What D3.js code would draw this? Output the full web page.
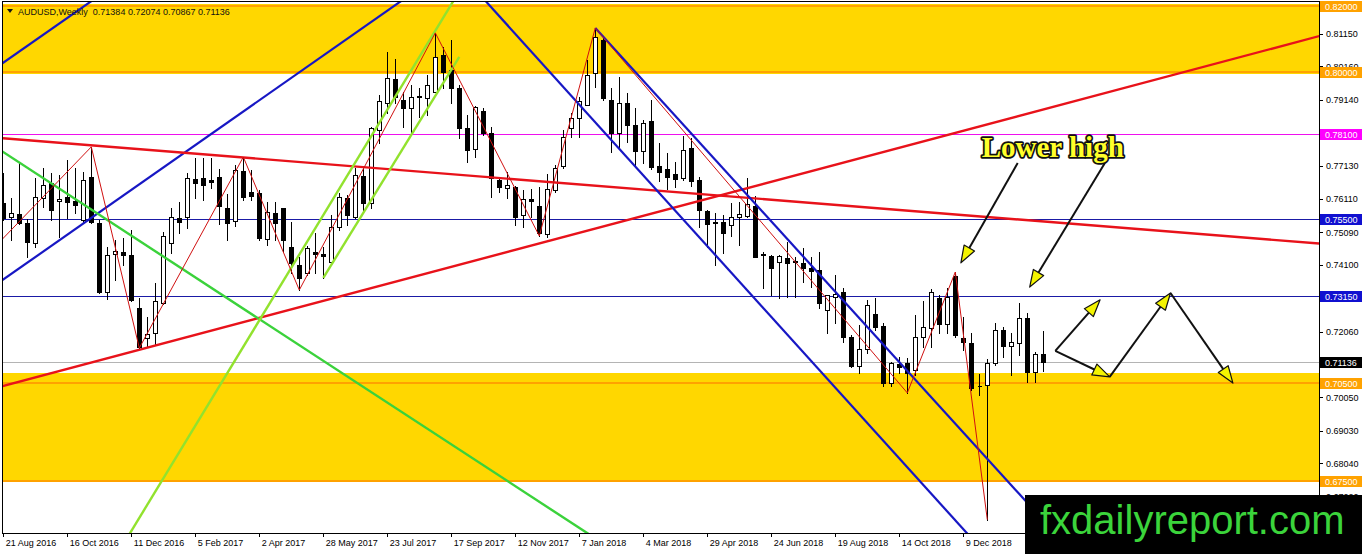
<!DOCTYPE html>
<html>
<head>
<meta charset="utf-8">
<script src="https://cdn.jsdelivr.net/npm/d3@7"></script>
<style>
    html, body { margin: 0; padding: 0; background: #fff; overflow: hidden; }
    svg { display: block; }
</style>
</head>
<body>
<svg id="mainsvg" width="1362" height="554"></svg>
<script>
// AUDUSD weekly, bar 0 = week of 21 Aug 2016
const open = [0.7599,0.7556,0.7565,0.7538,0.7477,0.7614,0.7660,0.7605,0.7617,0.7605,
    0.7547,0.7678,0.7538,0.7327,0.7443,0.7449,0.7440,0.7278,0.7187,0.7202,
    0.7294,0.7477,0.7553,0.7556,0.7672,0.7675,0.7669,0.7678,0.7584,0.7544,
    0.7697,0.7632,0.7629,0.7489,0.7568,0.7584,0.7465,0.7410,0.7385,0.7449,
    0.7443,0.7419,0.7526,0.7614,0.7556,0.7681,0.7599,0.7822,0.7904,0.7977,
    0.7913,0.7889,0.7925,0.7919,0.7938,0.8050,0.8005,0.7950,0.7828,0.7764,
    0.7880,0.7812,0.7669,0.7645,0.7648,0.7562,0.7611,0.7590,0.7504,0.7639,
    0.7712,0.7828,0.7858,0.7898,0.7995,0.8096,0.7913,0.7812,0.7904,0.7837,
    0.7758,0.7849,0.7712,0.7703,0.7687,0.7675,0.7767,0.7669,0.7574,0.7541,
    0.7541,0.7532,0.7556,0.7559,0.7590,0.7443,0.7437,0.7419,0.7431,0.7422,
    0.7416,0.7400,0.7394,0.7272,0.7312,0.7327,0.7190,0.7101,0.7153,0.7260,
    0.7223,0.7050,0.7108,0.7111,0.7089,0.7190,0.7217,0.7309,0.7229,0.7376,
    0.7187,0.7172,0.7040,0.7043,0.7111,0.7211,0.7162,0.7172,0.7248,0.7083,
    0.71384];
const high = [0.7690,0.7614,0.7724,0.7550,0.7675,0.7706,0.7690,0.7684,0.7730,0.7706,
    0.7693,0.7770,0.7547,0.7465,0.7486,0.7492,0.7516,0.7309,0.7251,0.7355,
    0.7510,0.7584,0.7602,0.7690,0.7736,0.7736,0.7736,0.7703,0.7626,0.7715,
    0.7739,0.7700,0.7638,0.7602,0.7602,0.7584,0.7541,0.7434,0.7468,0.7507,
    0.7465,0.7562,0.7629,0.7623,0.7706,0.7709,0.7831,0.7928,0.8060,0.8038,
    0.7938,0.7959,0.7950,0.7989,0.8118,0.8075,0.8096,0.7959,0.7867,0.7895,
    0.7889,0.7831,0.7678,0.7693,0.7650,0.7638,0.7641,0.7648,0.7687,0.7715,
    0.7822,0.7873,0.7922,0.8035,0.8133,0.8102,0.7950,0.7983,0.7935,0.7889,
    0.7852,0.7913,0.7782,0.7751,0.7724,0.7803,0.7797,0.7678,0.7577,0.7568,
    0.7562,0.7599,0.7602,0.7675,0.7620,0.7449,0.7440,0.7440,0.7480,0.7434,
    0.7462,0.7434,0.7449,0.7318,0.7379,0.7339,0.7196,0.7226,0.7303,0.7309,
    0.7233,0.7114,0.7129,0.7126,0.7257,0.7300,0.7336,0.7318,0.7339,0.7388,
    0.7251,0.7202,0.7077,0.7123,0.7233,0.7220,0.7202,0.7294,0.7263,0.7144,
    0.72074];
const low = [0.7547,0.7486,0.7535,0.7434,0.7465,0.7587,0.7547,0.7495,0.7553,0.7568,
    0.7538,0.7538,0.7324,0.7306,0.7364,0.7410,0.7300,0.7156,0.7159,0.7165,
    0.7291,0.7446,0.7507,0.7522,0.7614,0.7608,0.7645,0.7535,0.7486,0.7529,
    0.7608,0.7608,0.7486,0.7471,0.7486,0.7449,0.7385,0.7333,0.7378,0.7385,
    0.7370,0.7416,0.7516,0.7532,0.7553,0.7571,0.7584,0.7782,0.7873,0.7904,
    0.7831,0.7806,0.7861,0.7867,0.7938,0.7950,0.7904,0.7797,0.7724,0.7739,
    0.7806,0.7617,0.7632,0.7614,0.7532,0.7526,0.7556,0.7498,0.7495,0.7632,
    0.7706,0.7800,0.7800,0.7898,0.7953,0.7913,0.7755,0.7767,0.7785,0.7715,
    0.7721,0.7703,0.7666,0.7642,0.7648,0.7669,0.7651,0.7526,0.7465,0.7410,
    0.7446,0.7498,0.7471,0.7556,0.7434,0.7339,0.7318,0.7309,0.7312,0.7312,
    0.7358,0.7342,0.7278,0.7202,0.7233,0.7175,0.7098,0.7080,0.7141,0.7211,
    0.7041,0.7041,0.7080,0.7019,0.7074,0.7159,0.7159,0.7202,0.7202,0.7190,
    0.7150,0.7028,0.7013,0.6632,0.7104,0.7129,0.7074,0.7135,0.7053,0.7053,
    0.70867];
const close = [0.7553,0.7568,0.7538,0.7480,0.7617,0.7654,0.7577,0.7611,0.7602,0.7593,
    0.7669,0.7541,0.7327,0.7440,0.7452,0.7440,0.7303,0.7159,0.7199,0.7300,
    0.7498,0.7556,0.7541,0.7675,0.7660,0.7654,0.7663,0.7590,0.7538,0.7700,
    0.7617,0.7620,0.7492,0.7571,0.7538,0.7486,0.7416,0.7370,0.7462,0.7443,
    0.7437,0.7526,0.7617,0.7562,0.7684,0.7599,0.7828,0.7910,0.7980,0.7922,
    0.7889,0.7922,0.7922,0.7959,0.8044,0.7999,0.7950,0.7828,0.7761,0.7892,
    0.7812,0.7675,0.7648,0.7654,0.7556,0.7611,0.7605,0.7507,0.7642,0.7706,
    0.7800,0.7858,0.7910,0.7990,0.8105,0.7919,0.7812,0.7904,0.7837,0.7758,
    0.7843,0.7709,0.7693,0.7678,0.7672,0.7761,0.7666,0.7578,0.7535,0.7538,
    0.7507,0.7556,0.7565,0.7596,0.7434,0.7440,0.7400,0.7437,0.7416,0.7419,
    0.7400,0.7391,0.7294,0.7318,0.7321,0.7190,0.7101,0.7153,0.7288,0.7220,
    0.7050,0.7111,0.7099,0.7080,0.7190,0.7220,0.7327,0.7229,0.7312,0.7196,
    0.7175,0.7034,0.7040,0.7111,0.7211,0.7162,0.7175,0.7248,0.7083,0.7138,
    0.71136];

const dateLabels = ['21 Aug 2016', '16 Oct 2016', '11 Dec 2016', '5 Feb 2017', '2 Apr 2017',
    '28 May 2017', '23 Jul 2017', '17 Sep 2017', '12 Nov 2017', '7 Jan 2018', '4 Mar 2018',
    '29 Apr 2018', '24 Jun 2018', '19 Aug 2018', '14 Oct 2018', '9 Dec 2018'];
const dateBars = [0, 8, 16, 24, 32, 40, 48, 56, 64, 72, 80, 88, 96, 104, 112, 120];
const priceTicks = [0.8115, 0.8016, 0.7914, 0.7813, 0.7713, 0.7611, 0.7509, 0.7410,
    0.7308, 0.7206, 0.7107, 0.7005, 0.6903, 0.6804, 0.6702];

// supply / demand zones (top, bottom)
const zones = [[0.8206, 0.7992], [0.7080, 0.6747]];
// horizontal levels and their kind
const levels = [0.82, 0.80, 0.781, 0.755, 0.7315, 0.71136, 0.705, 0.675];
const levelKinds = ['zone', 'zone', 'pink', 'blue', 'blue', 'bid', 'zone', 'zone'];

// trend lines as [bar, price] pairs
const trendKinds = ['blue', 'blue', 'red', 'red', 'green', 'lime', 'lime', 'blue', 'blue'];
const trendLines = [
    [[-1, 0.8010], [16, 0.8300]],
    [[-1, 0.7348], [52, 0.8254]],
    [[-1, 0.7798], [166, 0.7472]],
    [[-1, 0.70335], [166, 0.8118]],
    [[-1, 0.7770], [74, 0.6575]],
    [[15, 0.6557], [57, 0.8245]],
    [[40, 0.7370], [57, 0.8045]],
    [[59, 0.8250], [122, 0.6549]],
    [[74, 0.8133], [131, 0.6603]]
];

// zigzag swing points
const zigBars = [-1, 11, 17, 30, 37, 54, 67, 74, 113, 119, 123];
const zigPrices = [0.7466, 0.7770, 0.7156, 0.7739, 0.7333, 0.8118, 0.7498, 0.8133, 0.7019, 0.7388, 0.6632];

// annotation arrows
const arrowFrom = [[126.8, 0.7721], [137.7, 0.7721], [131.5, 0.7147], [131.5, 0.7147], [138.3, 0.7068], [145.9, 0.7324]];
const arrowTo = [[119.7, 0.7416], [128.3, 0.7342], [137.1, 0.7303], [138.3, 0.7068], [145.9, 0.7324], [153.7, 0.7049]];
const noteText = 'Lower high';
const notePos = [122.3, 0.7739];

const svg = d3.select('#mainsvg');
const width = +svg.attr('width');
const height = +svg.attr('height');
const plot = {left: 3, right: 1319, top: 2, bottom: 533};

const x = d3.scaleLinear().domain([0, 130]).range([3.3, 1043.3]);
const y = d3.scaleLinear().domain([0.675, 0.82]).range([481, 6]);
const px = v => Math.round(x(v)) + 0.5;
const py = v => Math.round(y(v)) + 0.5;
const fmt = d3.format('.5f');

const lineColor = {blue: '#1717c4', red: '#e8121a', green: '#3bd23b', lime: '#92e22e'};
const levelStyle = {
    zone: {stroke: '#ffa200', width: 2, box: '#ffa200'},
    pink: {stroke: '#ee10ee', width: 1, box: '#ff00ff'},
    blue: {stroke: '#1a1aa6', width: 1, box: '#1010d0'},
    bid: {stroke: '#b4b4b4', width: 1, box: '#000000'}
};

svg.append('rect').attr('width', width).attr('height', height).attr('fill', '#fff');

svg.append('defs').append('clipPath').attr('id', 'plotclip')
    .append('rect')
    .attr('x', plot.left).attr('y', plot.top)
    .attr('width', plot.right - plot.left).attr('height', plot.bottom - plot.top);

const g = svg.append('g').attr('clip-path', 'url(#plotclip)');

// zones
g.selectAll('.zone').data(zones).enter()
    .append('rect')
    .attr('class', 'zone')
    .attr('x', plot.left)
    .attr('width', plot.right - plot.left)
    .attr('y', d => Math.round(y(d[0])))
    .attr('height', d => Math.round(y(d[1])) - Math.round(y(d[0])))
    .attr('fill', '#ffd700');

// horizontal levels
g.selectAll('.level').data(levels).enter()
    .append('line')
    .attr('class', 'level')
    .attr('x1', plot.left).attr('x2', plot.right)
    .attr('y1', function(d, i) { return levelStyle[levelKinds[i]].width === 2 ? Math.round(y(d)) : py(d); })
    .attr('y2', function(d, i) { return levelStyle[levelKinds[i]].width === 2 ? Math.round(y(d)) : py(d); })
    .attr('stroke', (d, i) => levelStyle[levelKinds[i]].stroke)
    .attr('stroke-width', (d, i) => levelStyle[levelKinds[i]].width)
    .attr('shape-rendering', 'crispEdges');

// candles
const bars = open.map((o, i) => ({i: i, o: o, h: high[i], l: low[i], c: close[i]}));
const cg = g.append('g').attr('shape-rendering', 'crispEdges');
cg.selectAll('.wick').data(bars).enter()
    .append('line')
    .attr('x1', d => px(d.i)).attr('x2', d => px(d.i))
    .attr('y1', d => py(d.h) - 0.5).attr('y2', d => py(d.l) + 0.5)
    .attr('stroke', '#000').attr('stroke-width', 1);
cg.selectAll('.body').data(bars).enter()
    .append('path')
    .attr('d', function(d) {
        const cx = px(d.i);
        const top = py(Math.max(d.o, d.c));
        const bot = py(Math.min(d.o, d.c));
        return `M${cx - 2},${top}H${cx + 2}V${bot}H${cx - 2}Z`;
    })
    .attr('fill', d => d.c >= d.o ? '#fff' : '#000')
    .attr('stroke', '#000').attr('stroke-width', 1);

// trend lines
const line = d3.line().x(d => x(d[0])).y(d => y(d[1]));
g.selectAll('.trend').data(trendLines).enter()
    .append('path')
    .attr('d', line)
    .attr('fill', 'none')
    .attr('stroke', (d, i) => lineColor[trendKinds[i]])
    .attr('stroke-width', (d, i) => trendKinds[i] === 'blue' ? 2.2 : 2.4);

// zigzag
g.append('path')
    .attr('d', line(zigBars.map((b, i) => [b, zigPrices[i]])))
    .attr('fill', 'none')
    .attr('stroke', '#d01010')
    .attr('stroke-width', 1);

// arrows
const ag = g.append('g');
arrowFrom.forEach(function(f, k) {
    const x1 = x(f[0]), y1 = y(f[1]);
    const x2 = x(arrowTo[k][0]), y2 = y(arrowTo[k][1]);
    const len = Math.hypot(x2 - x1, y2 - y1);
    const ux = (x2 - x1) / len, uy = (y2 - y1) / len;
    const hl = 17, hw = 6;
    const bx = x2 - ux * hl, by = y2 - uy * hl;
    ag.append('line')
        .attr('x1', x1).attr('y1', y1).attr('x2', bx).attr('y2', by)
        .attr('stroke', '#111').attr('stroke-width', 2);
    ag.append('path')
        .attr('d', `M${x2},${y2}L${bx - uy * hw},${by + ux * hw}L${bx + uy * hw},${by - ux * hw}Z`)
        .attr('fill', '#f4f400')
        .attr('stroke', '#111').attr('stroke-width', 1.2)
        .attr('stroke-linejoin', 'round');
});

g.append('text')
    .attr('x', x(notePos[0]))
    .attr('y', y(notePos[1]))
    .attr('font-family', '"Liberation Serif", serif')
    .attr('font-weight', 'bold')
    .attr('font-size', 29)
    .attr('fill', '#ffff2a')
    .attr('stroke', '#111')
    .attr('stroke-width', 3.5)
    .attr('stroke-linejoin', 'round')
    .attr('paint-order', 'stroke')
    .text(noteText);

// header
const last = open.length - 1;
svg.append('path').attr('d', 'M7,9H13L10,13Z').attr('fill', '#111');
svg.append('text')
    .attr('x', 18).attr('y', 14.5)
    .attr('font-family', '"Liberation Sans", Arial, sans-serif')
    .attr('font-size', 9)
    .attr('fill', '#111')
    .style('white-space', 'pre')
    .text(`AUDUSD,Weekly  ${fmt(open[last])} ${fmt(high[last])} ${fmt(low[last])} ${fmt(close[last])}`);

// frame
svg.append('path')
    .attr('d', `M${plot.left - 0.5},${plot.bottom + 0.5}V${plot.top - 0.5}H${plot.right + 0.5}V${plot.bottom + 0.5}Z`)
    .attr('fill', 'none').attr('stroke', '#000').attr('stroke-width', 1)
    .attr('shape-rendering', 'crispEdges');

// price axis
const yAxis = d3.axisRight(y).tickValues(priceTicks).tickFormat(fmt).tickSize(3).tickPadding(3);
const ya = svg.append('g')
    .attr('transform', `translate(${plot.right + 1},0)`)
    .call(yAxis);
ya.select('.domain').remove();
ya.selectAll('line').attr('stroke', '#000').attr('shape-rendering', 'crispEdges');
ya.selectAll('text')
    .attr('font-family', '"Liberation Sans", Arial, sans-serif')
    .attr('font-size', 9)
    .attr('fill', '#000');

// time axis
const xAxis = d3.axisBottom(x).tickValues(dateBars).tickFormat((d, i) => dateLabels[i]).tickSize(4).tickPadding(3);
const xa = svg.append('g')
    .attr('transform', `translate(0,${plot.bottom})`)
    .call(xAxis);
xa.select('.domain').remove();
xa.selectAll('line').attr('stroke', '#000').attr('shape-rendering', 'crispEdges');
xa.selectAll('text')
    .attr('text-anchor', 'start')
    .attr('x', 2)
    .attr('font-family', '"Liberation Sans", Arial, sans-serif')
    .attr('font-size', 9)
    .attr('fill', '#000');

// level price boxes
const lb = svg.append('g');
lb.selectAll('rect').data(levels).enter()
    .append('rect')
    .attr('x', plot.right + 1)
    .attr('y', d => Math.round(y(d)) - 5)
    .attr('width', width - plot.right - 1)
    .attr('height', 11)
    .attr('fill', (d, i) => levelStyle[levelKinds[i]].box);
lb.selectAll('text').data(levels).enter()
    .append('text')
    .attr('x', plot.right + 6)
    .attr('y', d => Math.round(y(d)) + 3.5)
    .attr('font-family', '"Liberation Sans", Arial, sans-serif')
    .attr('font-size', 9)
    .attr('fill', '#fff')
    .text(d => fmt(d));

// watermark
svg.append('rect')
    .attr('x', 1025).attr('y', 495)
    .attr('width', width - 1025).attr('height', height - 495)
    .attr('fill', '#000');
svg.append('text')
    .attr('x', 1040).attr('y', 534)
    .attr('font-family', '"Liberation Sans", Arial, sans-serif')
    .attr('font-size', 40)
    .attr('fill', '#3bd43b')
    .text('fxdailyreport.com');
</script>
</body>
</html>
